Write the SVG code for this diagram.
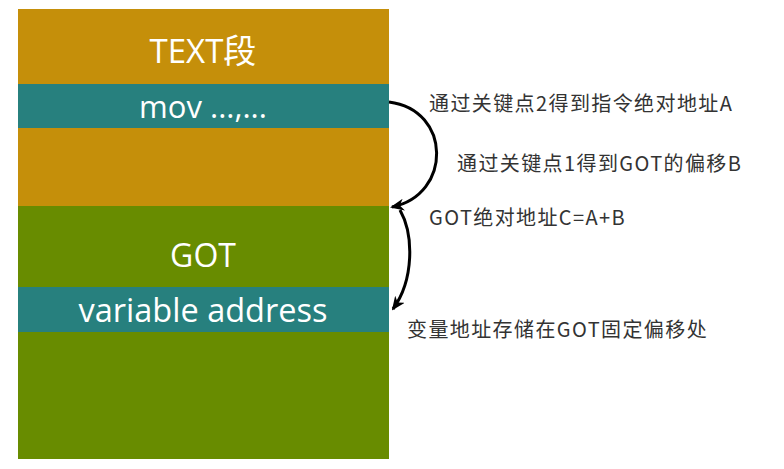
<svg xmlns="http://www.w3.org/2000/svg" width="784" height="469" viewBox="0 0 784 469">
<defs>
<style>
.gold{fill:#C58F0A}
.teal{fill:#27807E}
.green{fill:#688C00}
.blk{font-family:"Open Sans","Noto Sans","Noto Sans CJK SC",sans-serif;fill:#ffffff;text-anchor:middle}
.lbl{font-family:"Noto Sans CJK SC","Noto Sans",sans-serif;fill:#333333;font-size:20px;letter-spacing:1.4px}
.conn{fill:none;stroke:#000;stroke-width:3}
</style>
<marker id="ah" markerWidth="14" markerHeight="12" refX="12" refY="6" orient="auto" markerUnits="userSpaceOnUse">
<path d="M0,0 L14,6 L0,12 L4,6 z" fill="#000"/>
</marker>
</defs>
<rect width="784" height="469" fill="#ffffff"/>
<g id="text-seg">
<rect class="gold" x="18" y="9" width="371" height="75"/>
<text class="blk" x="203" y="63" font-size="33">TEXT段</text>
</g>
<g id="mov">
<rect class="teal" x="18" y="84" width="371" height="44"/>
<text class="blk" x="203" y="118" font-size="31">mov ...,...</text>
</g>
<g id="text-rest">
<rect class="gold" x="18" y="128" width="371" height="78"/>
</g>
<g id="got">
<rect class="green" x="18" y="206" width="371" height="81"/>
<text class="blk" x="203" y="267" font-size="32">GOT</text>
</g>
<g id="var">
<rect class="teal" x="18" y="287" width="371" height="45"/>
<text class="blk" x="203" y="322" font-size="32.5">variable address</text>
</g>
<g id="got-rest">
<rect class="green" x="18" y="332" width="371" height="127"/>
</g>
<g id="connectors">
<path class="conn" d="M389,102 C452,110 452,195 392,207" marker-end="url(#ah)"/>
<path class="conn" d="M400,210 C414,235 414,280 393,309" marker-end="url(#ah)"/>
</g>
<g id="labels">
<text class="lbl" x="429" y="111">通过关键点2得到指令绝对地址A</text>
<text class="lbl" x="457" y="171">通过关键点1得到GOT的偏移B</text>
<text class="lbl" x="429" y="225">GOT绝对地址C=A+B</text>
<text class="lbl" x="407" y="337">变量地址存储在GOT固定偏移处</text>
</g>
</svg>
